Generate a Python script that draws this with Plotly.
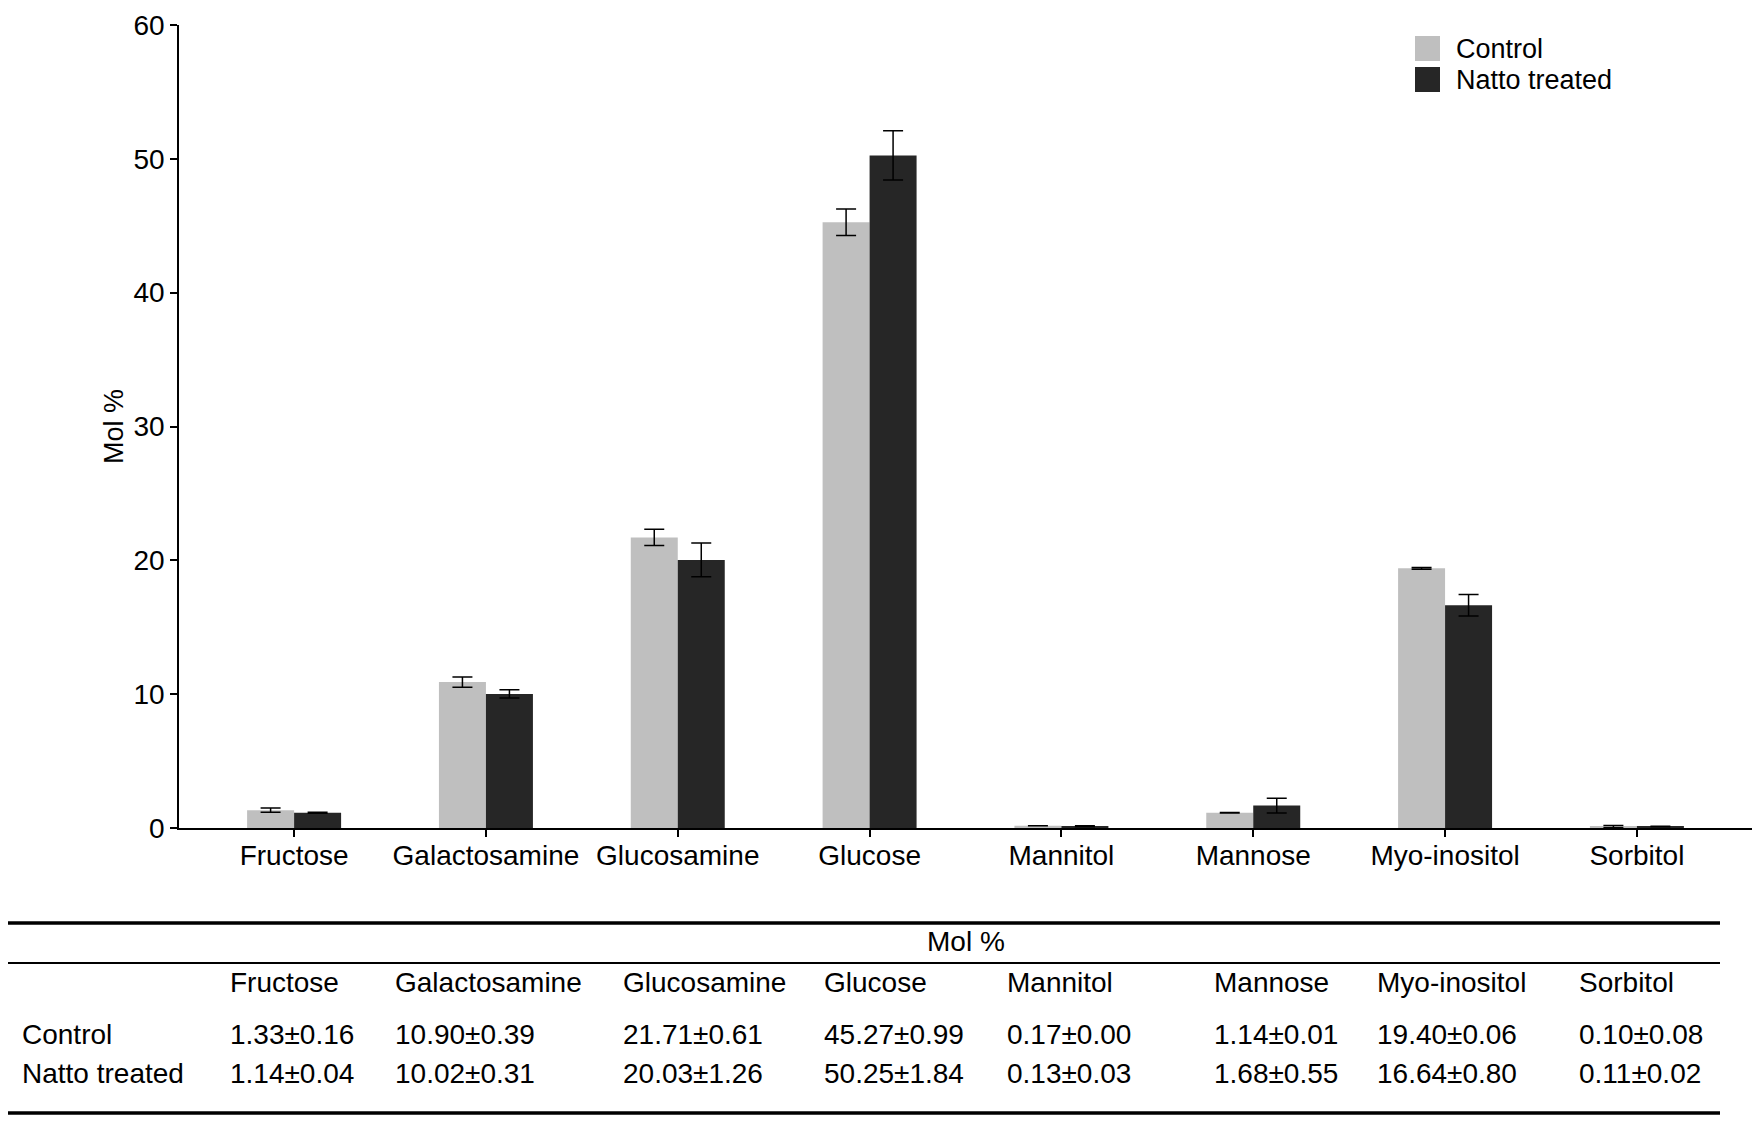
import plotly.graph_objects as go

categories = ["Fructose", "Galactosamine", "Glucosamine", "Glucose",
              "Mannitol", "Mannose", "Myo-inositol", "Sorbitol"]
control_mean = [1.33, 10.90, 21.71, 45.27, 0.17, 1.14, 19.40, 0.10]
control_sd = [0.16, 0.39, 0.61, 0.99, 0.00, 0.01, 0.06, 0.08]
natto_mean = [1.14, 10.02, 20.03, 50.25, 0.13, 1.68, 16.64, 0.11]
natto_sd = [0.04, 0.31, 1.26, 1.84, 0.03, 0.55, 0.80, 0.02]
series_names = ["Control", "Natto treated"]
y_ticks = [0, 10, 20, 30, 40, 50, 60]

# page body margin offsets the figure by 8px
OFF = 8
W, H = 1760 - OFF, 1121 - OFF
L, T = 179 - OFF, 25 - OFF
R = W - (1752 - OFF)
B = H - (828 - OFF)
PW, PH = W - L - R, H - T - B
FONT = "Liberation Sans, Arial, sans-serif"
C_CTRL = "#bfbfbf"
C_NATTO = "#262626"


def px(x):
    return (x - OFF - L) / PW


def py(y):
    return (H - B - (y - OFF)) / PH


fig = go.Figure()
fig.add_trace(go.Bar(
    x=categories, y=control_mean, name=series_names[0],
    marker=dict(color=C_CTRL, line=dict(width=0)),
    error_y=dict(type="data", array=control_sd, visible=True,
                 color="black", thickness=1.5, width=10),
    showlegend=False))
fig.add_trace(go.Bar(
    x=categories, y=natto_mean, name=series_names[1],
    marker=dict(color=C_NATTO, line=dict(width=0)),
    error_y=dict(type="data", array=natto_sd, visible=True,
                 color="black", thickness=1.5, width=10),
    showlegend=False))

shapes = []
annotations = []

# legend (manual, to get the large square keys)
leg_items = [(series_names[0], C_CTRL, 48.5), (series_names[1], C_NATTO, 79.5)]
for name, col, yc in leg_items:
    shapes.append(dict(type="rect", xref="paper", yref="paper",
                       x0=px(1415), x1=px(1440), y0=py(yc + 12.5), y1=py(yc - 12.5),
                       fillcolor=col, line=dict(width=0)))
    annotations.append(dict(text=name, xref="paper", yref="paper",
                            x=px(1454), y=py(yc), xanchor="left",
                            yanchor="middle", showarrow=False,
                            font=dict(size=27, color="black", family=FONT)))

# table
tx0, tx1 = px(6), px(1720)
for yy, wd in [(923, 3.5), (963, 2), (1113, 3.5)]:
    shapes.append(dict(type="line", xref="paper", yref="paper",
                       x0=tx0, x1=tx1, y0=py(yy), y1=py(yy),
                       line=dict(color="black", width=wd)))

annotations.append(dict(text="Mol %", xref="paper", yref="paper",
                        x=px(966), y=py(941), xanchor="center", yanchor="middle",
                        showarrow=False, font=dict(size=28, color="black", family=FONT)))

col_x = [228, 393, 621, 822, 1005, 1212, 1375, 1577]
for cx, cat in zip(col_x, categories):
    annotations.append(dict(text=cat, xref="paper", yref="paper",
                            x=px(cx), y=py(983), xanchor="left", yanchor="middle",
                            showarrow=False, font=dict(size=28, color="black", family=FONT)))

rows = [(series_names[0], control_mean, control_sd, 1034),
        (series_names[1], natto_mean, natto_sd, 1073)]
for name, means, sds, ry in rows:
    annotations.append(dict(text=name, xref="paper", yref="paper",
                            x=px(20), y=py(ry), xanchor="left", yanchor="middle",
                            showarrow=False, font=dict(size=28, color="black", family=FONT)))
    for cx, m, s in zip(col_x, means, sds):
        annotations.append(dict(text=f"{m:.2f}\u00b1{s:.2f}", xref="paper", yref="paper",
                                x=px(cx), y=py(ry), xanchor="left", yanchor="middle",
                                showarrow=False,
                                font=dict(size=28, color="black", family=FONT)))

fig.update_layout(
    width=W, height=H,
    margin=dict(l=L, r=R, t=T, b=B, pad=0, autoexpand=False),
    paper_bgcolor="white", plot_bgcolor="white",
    font=dict(family=FONT, color="black", size=28),
    barmode="group", bargap=0.51, bargroupgap=0,
    shapes=shapes, annotations=annotations,
    xaxis=dict(type="category", range=[-0.6, 7.6], showgrid=False, zeroline=False,
               automargin=False,
               showline=True, linecolor="black", linewidth=1.5,
               ticks="outside", ticklen=7, tickwidth=1.5, tickcolor="black",
               ticklabelstandoff=-5,
               tickfont=dict(size=28, family=FONT, color="black")),
    yaxis=dict(range=[0, 60], tickvals=y_ticks, showgrid=False, zeroline=False,
               automargin=False,
               showline=True, linecolor="black", linewidth=1.5,
               ticks="outside", ticklen=7, tickwidth=1.5, tickcolor="black",
               ticklabeloverflow="allow",
               tickfont=dict(size=28, family=FONT, color="black"),
               title=dict(text="Mol %", standoff=2,
                          font=dict(size=27, family=FONT, color="black"))),
)

fig.write_html("out.html")
